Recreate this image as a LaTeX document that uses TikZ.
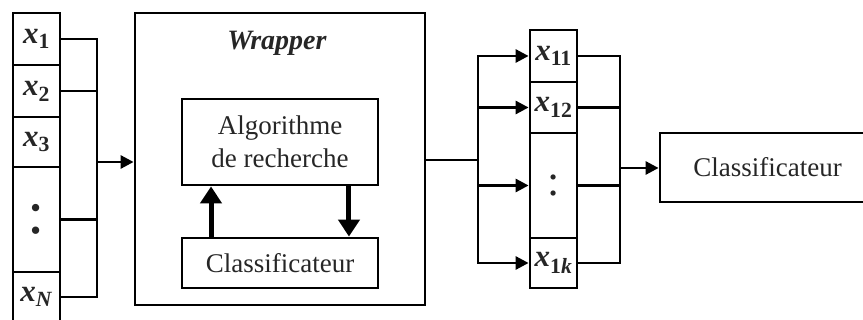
\documentclass[tikz,border=0pt]{standalone}
\usepackage{fontspec}
\setmainfont{Liberation Serif}
\usetikzlibrary{arrows.meta,calc}
\newcommand\xv[1]{\textbf{\textit{x}}\textsubscript{\textbf{#1}}}
\begin{document}
\begin{tikzpicture}[x=1pt,y=-1pt,
  box/.style={draw,line width=2.8pt,rectangle,inner sep=0pt,text=black!85},
  cell/.style={box,minimum width=47pt,font=\fontsize{31}{34}\selectfont},
  lbl/.style={font=\fontsize{27}{33}\selectfont,align=center},
  wire/.style={line width=2.8pt,line cap=rect},
  arr/.style={line width=2.8pt,-{Triangle[length=13pt,width=13pt]}},
  bigarr/.style={line width=5pt,-{Triangle[length=17pt,width=21pt]}}]
\useasboundingbox (0,0) rectangle (863,320);
\clip (0,0) rectangle (863,320);
% left column
\node[cell,minimum height=52pt] (c1) at (36.5,39) {\xv{1}};
\node[cell,minimum height=52pt] (c2) at (36.5,91) {\xv{2}};
\node[cell,minimum height=50pt] (c3) at (36.5,142) {\xv{3}};
\node[cell,minimum height=105pt,font=\fontsize{62}{66}\selectfont] (cd) at (36.5,219.5) {\raisebox{-7pt}{:}};
\node[cell,minimum height=50pt] (cN) at (36.5,297) {\xv{\textit{N}}};
% wrapper
\node[box,minimum width=290pt,minimum height=292pt] (wrap) at (280,159) {};
\node[font=\fontsize{28}{32}\selectfont\bfseries\itshape,text=black!85] (wt) at (277,43) {Wrapper};
\node[box,lbl,minimum width=196pt,minimum height=86pt] (algo) at (280,142) {Algorithme\\de recherche};
\node[box,lbl,minimum width=196pt,minimum height=50pt] (cin) at (280,263) {Classificateur};
% right column
\node[cell,minimum height=52pt] (r1) at (553.5,56) {\xv{11}};
\node[cell,minimum height=51pt] (r2) at (553.5,107.5) {\xv{12}};
\node[cell,minimum height=105pt,font=\fontsize{44}{48}\selectfont] (rd) at (553.5,185.5) {\raisebox{-4pt}{:}};
\node[cell,minimum height=50pt] (rk) at (553.5,263) {\xv{1\textit{k}}};
% final classifier
\node[box,lbl,minimum width=215pt,minimum height=69pt] (cls) at (767.5,167.5) {Classificateur};
% junctions
\coordinate (jl) at (97,162);
\coordinate (jr) at (478,160);
\coordinate (jr2) at (620,168);
% left bracket
\draw[wire] (c1.east) -| (jl);
\draw[wire] (c2.east) -| (jl);
\draw[wire] (cd.east) -| (jl);
\draw[wire] (cN.east) -| (jl);
\draw[arr] (jl) -- (jl -| wrap.west);
% inner loop
\draw[bigarr] ($(cin.north west)!0.153!(cin.north east)$) -- ($(algo.south west)!0.153!(algo.south east)$);
\draw[bigarr] ($(algo.south west)!0.847!(algo.south east)$) -- ($(cin.north west)!0.847!(cin.north east)$);
% wrapper to right column
\draw[wire] (jr -| wrap.east) -- (jr);
\draw[arr] (jr) |- (r1.west);
\draw[arr] (jr) |- (r2.west);
\draw[arr] (jr) |- (rd.west);
\draw[arr] (jr) |- (rk.west);
% right bracket
\draw[wire] (r1.east) -| (jr2);
\draw[wire] (r2.east) -| (jr2);
\draw[wire] (rd.east) -| (jr2);
\draw[wire] (rk.east) -| (jr2);
\draw[arr] (jr2) -- (jr2 -| cls.west);
\end{tikzpicture}
\end{document}
